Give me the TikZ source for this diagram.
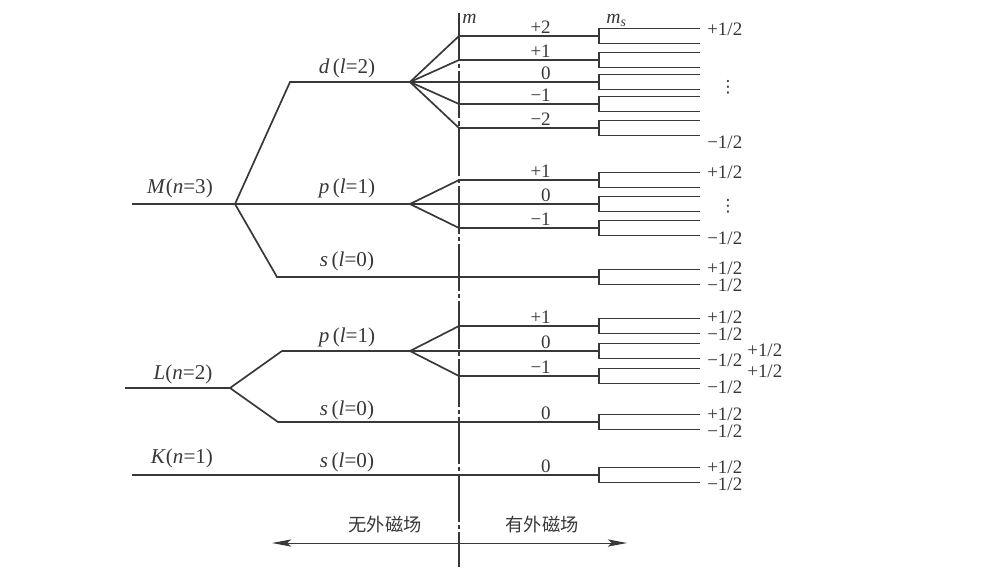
\documentclass[tikz,border=0pt]{standalone}
\usepackage{fontspec}
\setmainfont{Liberation Serif}
\newfontfamily\cjkfont{Noto Sans CJK SC}
\newfontfamily\symfont{DejaVu Sans}
\usepackage{xcolor}
\usepackage{tikz}
\usetikzlibrary{arrows.meta,positioning,calc}

\definecolor{inkgray}{gray}{0.22}

\begin{document}
\begin{tikzpicture}[
  x=0.025cm, y=-0.025cm,
  lvl/.style={draw=inkgray, line width=1.2pt},
  axisline/.style={draw=inkgray, line width=1pt, dash pattern=on 34pt off 2pt on 3pt off 2pt},
  fieldarrow/.style={draw=inkgray, line width=0.7pt, -{Stealth[length=4.8mm, width=1.8mm, inset=1mm]}},
  lvlname/.style={anchor=base, inner sep=0pt, text=inkgray, font=\fontsize{15pt}{17pt}\selectfont},
  mval/.style={anchor=base east, inner sep=0pt, text=inkgray, font=\fontsize{13.5pt}{15pt}\selectfont},
  msval/.style={anchor=base west, inner sep=0pt, text=inkgray, font=\fontsize{13.5pt}{15pt}\selectfont},
  dotcol/.style={anchor=center, inner sep=0pt, text=inkgray, font=\symfont\fontsize{12pt}{14pt}\selectfont},
  zh/.style={inner sep=0pt, text=inkgray, font=\cjkfont\fontsize{13pt}{15pt}\selectfont}
]
  \useasboundingbox (0,0) rectangle (998,567);

  % m axis
  \coordinate (axtop) at (459,13);
  \coordinate (axbot) at (459,567);
  \draw[axisline] (axtop) -- (axbot);
  \node[anchor=base west, inner sep=0pt, text=inkgray, font=\fontsize{14pt}{16pt}\selectfont] (mlab) at (462,23) {\textit{m}};
  \node[anchor=base west, inner sep=0pt, text=inkgray, font=\fontsize{14pt}{16pt}\selectfont] (mslab) at (606,23) {\textit{m}\textsubscript{\textit{s}}};

  % M shell
  \coordinate (Mst) at (132,204);
  \coordinate (Mb) at (235,204);
  \coordinate (Md) at (290,82);
  \coordinate (Mdf) at (410,82);
  \coordinate (Mpf) at (410,204);
  \coordinate (Ms) at (277,277);
  \draw[lvl] (Mst) -- (Mb) -- (Md) -- (Mdf);
  \draw[lvl] (Mb) -- (Mpf);
  \draw[lvl] (Mb) -- (Ms) -- (599,277);
  \foreach \y [count=\i] in {36,60,82,104,128} {
    \coordinate (dm\i) at (459,\y);
    \draw[lvl] (Mdf) -- (dm\i) -- ++(140,0);
  }
  \foreach \y [count=\i] in {180,204,228} {
    \coordinate (pm\i) at (459,\y);
    \draw[lvl] (Mpf) -- (pm\i) -- ++(140,0);
  }

  % L shell
  \coordinate (Lst) at (125,388);
  \coordinate (Lb) at (230,388);
  \coordinate (Lp) at (282,351);
  \coordinate (Lpf) at (410,351);
  \coordinate (Ls) at (278,422);
  \draw[lvl] (Lst) -- (Lb) -- (Lp) -- (Lpf);
  \draw[lvl] (Lb) -- (Ls) -- (599,422);
  \foreach \y [count=\i] in {326,351,376} {
    \coordinate (lm\i) at (459,\y);
    \draw[lvl] (Lpf) -- (lm\i) -- ++(140,0);
  }

  % K shell
  \coordinate (Kst) at (132,475);
  \draw[lvl] (Kst) -- (599,475);

  % spin splitting
  \foreach \y in {36,60,82,104,128,180,204,228,277,326,351,376,422,475}
    \draw[lvl] (700,\y-7.5) -| (599,\y+7.5) -- (700,\y+7.5);

  % shell and subshell names
  \node[lvlname] (Mname) at (180,193) {\textit{M}(\textit{n}=3)};
  \node[lvlname] (Lname) at (183,379) {\textit{L}(\textit{n}=2)};
  \node[lvlname] (Kname) at (182,463) {\textit{K}(\textit{n}=1)};
  \node[lvlname] (Mdname) at (347,73) {\textit{d}\,(\textit{l}=2)};
  \node[lvlname] (Mpname) at (347,193) {\textit{p}\,(\textit{l}=1)};
  \node[lvlname] (Msname) at (347,266) {\textit{s}\,(\textit{l}=0)};
  \node[lvlname] (Lpname) at (347,342) {\textit{p}\,(\textit{l}=1)};
  \node[lvlname] (Lsname) at (347,415) {\textit{s}\,(\textit{l}=0)};
  \node[lvlname] (Ksname) at (347,467) {\textit{s}\,(\textit{l}=0)};

  % m values
  \foreach \y/\t in {36/+2, 60/+1, 82/0, 104/{−1}, 128/{−2}, 180/+1, 204/0, 228/{−1},
                     326/+1, 351/0, 376/{−1}, 422/0, 475/0}
    \node[mval] (mv\y) at (551,\y-3) {\t};

  % m_s values
  \foreach \x/\y/\t [count=\i] in {707/29/+1\slash2, 707/142/−1\slash2, 707/172/+1\slash2, 707/238/−1\slash2,
                                   707/268/+1\slash2, 707/285/−1\slash2, 707/317/+1\slash2, 707/334/−1\slash2,
                                   747/350/+1\slash2, 707/360/−1\slash2, 747/371/+1\slash2, 707/387/−1\slash2,
                                   707/414/+1\slash2, 707/431/−1\slash2, 707/467/+1\slash2, 707/484/−1\slash2}
    \node[msval] (ms\i) at (\x,\y+6.5) {\t};
  \node[dotcol] (ddots) at (728,87) {⋮};
  \node[dotcol] (pdots) at (728,206) {⋮};

  % field arrows
  \coordinate (fo) at (459,543);
  \coordinate (fl) at (272,543);
  \coordinate (fr) at (627,543);
  \draw[fieldarrow] (fo) -- (fl);
  \draw[fieldarrow] (fo) -- (fr);
  \node[zh] (nofield) at (385,525) {无外磁场};
  \node[zh] (withfield) at (542,525) {有外磁场};
\end{tikzpicture}
\end{document}
